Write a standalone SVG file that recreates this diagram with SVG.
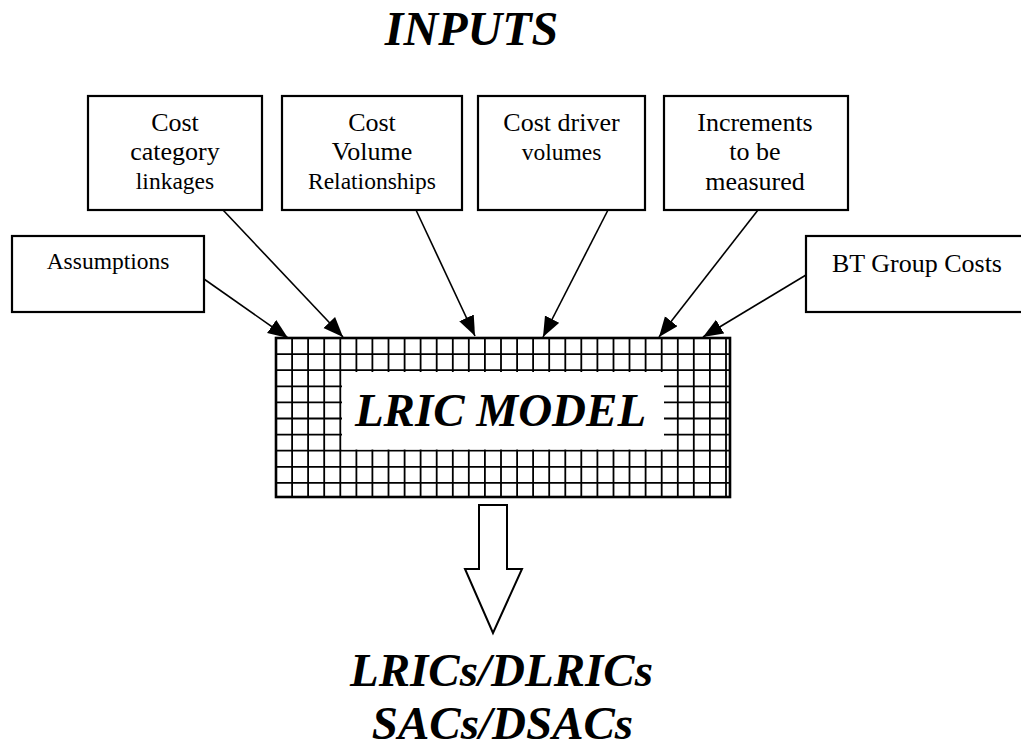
<svg xmlns="http://www.w3.org/2000/svg" width="1021" height="747" viewBox="0 0 1021 747">
<style>
.box{fill:#fff;stroke:#000;stroke-width:2.2}
.t{font-family:"Liberation Serif","Times New Roman",serif;fill:#000;text-anchor:middle}
.big{font-family:"Liberation Serif","Times New Roman",serif;font-weight:bold;font-style:italic;fill:#000;text-anchor:middle}
.a{fill:none;stroke:#000;stroke-width:1.6}
.grid{fill:none;stroke:#000;stroke-width:1.8}
</style>
<defs>
<marker id="ah" markerUnits="userSpaceOnUse" markerWidth="22" markerHeight="18" refX="20" refY="8" orient="auto">
<path d="M0,0 L20,8 L0,16 Z" fill="#000"/>
</marker>
</defs>
<rect width="1021" height="747" fill="#fff"/>
<text class="big" x="471.5" y="45" font-size="48">INPUTS</text>

<g id="assumptions">
<rect class="box" x="12" y="236" width="192" height="76"/>
<text class="t" x="108" y="269" font-size="23.5">Assumptions</text>
</g>
<g id="cost-category">
<rect class="box" x="88" y="96" width="174" height="114"/>
<text class="t" x="175" y="131" font-size="26">Cost</text>
<text class="t" x="175" y="160" font-size="26">category</text>
<text class="t" x="175" y="189" font-size="23.5">linkages</text>
</g>
<g id="cost-volume">
<rect class="box" x="282" y="96" width="180" height="114"/>
<text class="t" x="372" y="131" font-size="26">Cost</text>
<text class="t" x="372" y="160" font-size="26">Volume</text>
<text class="t" x="372" y="189" font-size="23.5">Relationships</text>
</g>
<g id="cost-driver">
<rect class="box" x="478" y="96" width="167" height="114"/>
<text class="t" x="561.5" y="131" font-size="26">Cost driver</text>
<text class="t" x="561.5" y="160" font-size="23.5">volumes</text>
</g>
<g id="increments">
<rect class="box" x="664" y="96" width="184" height="114"/>
<text class="t" x="755" y="131" font-size="26">Increments</text>
<text class="t" x="755" y="160" font-size="26">to be</text>
<text class="t" x="755" y="190" font-size="26">measured</text>
</g>
<g id="bt-group-costs">
<rect class="box" x="806" y="236" width="230" height="76"/>
<text class="t" x="917" y="272" font-size="26">BT Group Costs</text>
</g>

<g id="lric-model">
<path class="grid" d="M276 338V497M292.1 338V497M308.1 338V497M324.2 338V497M340.3 338V497M356.4 338V497M372.4 338V497M388.5 338V497M404.6 338V497M420.6 338V497M436.7 338V497M452.8 338V497M468.8 338V497M484.9 338V497M501 338V497M517.1 338V497M533.1 338V497M549.2 338V497M565.3 338V497M581.3 338V497M597.4 338V497M613.5 338V497M629.5 338V497M645.6 338V497M661.7 338V497M677.8 338V497M693.8 338V497M709.9 338V497M726 338V497M276 338H730M276 354.1H730M276 370.2H730M276 386.3H730M276 402.4H730M276 418.5H730M276 434.6H730M276 450.7H730M276 466.8H730M276 482.9H730"/>
<rect x="342" y="372" width="322" height="77.5" fill="#fff"/>
<rect x="276" y="338" width="454" height="159" fill="none" stroke="#000" stroke-width="2.6"/>
<text class="big" x="500.5" y="426" font-size="47">LRIC MODEL</text>
</g>

<g id="connectors">
<line class="a" x1="204" y1="279" x2="288" y2="338" marker-end="url(#ah)"/>
<line class="a" x1="223" y1="210" x2="343" y2="337" stroke-width="2.2" marker-end="url(#ah)"/>
<line class="a" x1="416" y1="210" x2="475" y2="336" marker-end="url(#ah)"/>
<line class="a" x1="608" y1="210" x2="543" y2="337" marker-end="url(#ah)"/>
<line class="a" x1="758" y1="210" x2="659" y2="337" marker-end="url(#ah)"/>
<line class="a" x1="806" y1="275" x2="703" y2="337" marker-end="url(#ah)"/>
<polygon points="479,505 507,505 507,569 522,569 493,633 465,569 479,569" fill="#fff" stroke="#000" stroke-width="2"/>
</g>

<g id="outputs">
<text class="big" x="501.5" y="686" font-size="47">LRICs/DLRICs</text>
<text class="big" x="502.5" y="738.5" font-size="47">SACs/DSACs</text>
</g>
</svg>
